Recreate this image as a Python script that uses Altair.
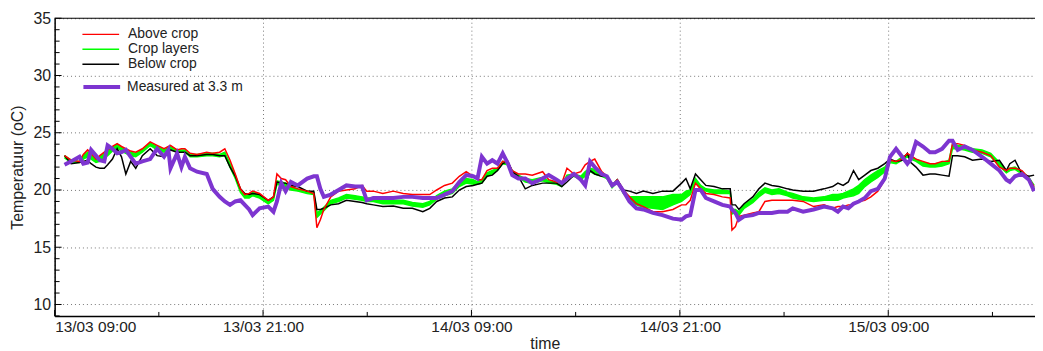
import altair as alt
import pandas as pd

# hours after 13/03 09:00
hours = [0.57, 0.95, 1.43, 1.65, 1.9, 2.1, 2.38, 2.6, 2.86, 3.05, 3.33, 3.6, 3.85, 4.1, 4.38, 4.67,
         5.05, 5.5, 5.9, 6.3, 6.55, 6.67, 7.05, 7.3, 7.5, 7.8, 8.2, 8.76, 9.1, 9.5, 9.8, 10.1,
         10.4, 10.7, 10.95, 11.2, 11.4, 11.8, 12.3, 12.6, 12.8, 13.05, 13.3, 13.6, 14.0, 14.54,
         14.92, 15.1, 15.3, 15.5, 15.9, 16.35, 16.8, 17.3, 17.7, 17.97, 18.35, 18.9, 19.5, 20.07,
         20.6, 21.2, 21.6, 22.0, 22.45, 22.9, 23.3, 23.7, 24.1, 24.35, 24.6, 24.9, 25.2, 25.5,
         25.8, 26.1, 26.35, 26.7, 27.1, 27.5, 28.1, 28.45, 28.9, 29.2, 29.5, 29.9, 30.3, 30.55,
         30.83, 31.1, 31.5, 31.8, 32.1, 32.4, 32.75, 33.1, 33.5, 33.9, 34.45, 35.0, 35.6, 36.1,
         36.35, 36.6, 36.9, 37.2, 37.5, 37.97, 38.45, 38.9, 39.0, 39.2, 39.4, 39.7, 40.2, 40.55,
         40.9, 41.3, 41.7, 42.2, 42.5, 43.1, 43.7, 44.3, 44.8, 45.1, 45.4, 45.7, 46.0, 46.3,
         46.65, 47.0, 47.4, 47.8, 48.1, 48.45, 48.8, 49.1, 49.3, 49.6, 50.0, 50.4, 50.7, 51.1,
         51.5, 51.7, 52.0, 52.4, 52.85, 53.4, 53.9, 54.4, 54.8, 55.0, 55.3, 55.7, 56.1, 56.4]

above = [23.0, 22.6, 22.5, 23.1, 23.5, 23.2, 22.7, 23.0, 23.3, 23.5, 23.8, 24.05, 23.8, 23.6, 23.4, 23.3,
         23.6, 24.2, 23.9, 23.6, 23.8, 23.9, 23.5, 23.6, 23.6, 23.2, 23.1, 23.3, 23.2, 23.3, 23.6, 22.6,
         21.4, 20.1, 19.6, 19.7, 19.9, 19.7, 19.1, 19.4, 21.4, 21.0, 20.9, 20.3, 20.1, 19.9,
         19.7, 16.7, 17.4, 18.3, 19.4, 19.9, 20.0, 20.1, 20.4, 19.9, 19.9, 19.7, 19.9, 19.7,
         19.6, 19.6, 19.6, 20.0, 20.4, 20.6, 21.2, 21.6, 21.2, 20.9, 20.9, 21.7, 21.9, 21.9,
         22.5, 22.4, 21.7, 21.4, 21.4, 21.3, 21.6, 20.9, 20.7, 20.6, 21.9, 21.4, 21.6, 22.2,
         22.5, 22.7, 21.6, 21.2, 20.4, 20.9, 20.0, 19.4, 18.8, 18.55, 18.1, 18.1, 18.3, 18.7,
         18.7, 19.1, 20.6, 20.1, 19.7, 19.6, 19.4, 19.3, 16.5, 16.8, 17.7, 17.8, 18.0, 18.1,
         19.0, 19.1, 19.1, 19.1, 19.1, 19.0, 18.55, 18.7, 18.4, 18.55, 18.55, 18.7, 18.7, 19.0,
         19.1, 19.4, 19.9, 20.9, 22.6, 22.5, 22.7, 23.2, 23.0, 22.7, 22.5, 22.3, 22.3, 22.5,
         22.5, 24.05, 24.05, 23.9, 23.5, 23.3, 23.0, 22.0, 21.7, 21.9, 21.9, 21.7, 21.0, 20.3]

crop_hi = [23.0, 22.6, 22.5, 23.0, 23.3, 23.1, 22.6, 22.9, 23.2, 23.4, 23.7, 24.0, 23.7, 23.5, 23.3, 23.2,
           23.5, 24.1, 23.8, 23.5, 23.7, 23.8, 23.5, 23.5, 23.5, 23.1, 23.1, 23.2, 23.2, 23.1, 23.3, 22.3,
           21.3, 20.0, 19.6, 19.6, 19.8, 19.6, 19.0, 19.3, 20.8, 20.7, 20.6, 20.3, 20.1, 19.9,
           19.8, 18.0, 18.2, 18.5, 19.1, 19.3, 19.6, 19.5, 19.4, 19.3, 19.3, 19.1, 19.1, 19.1,
           18.9, 18.8, 19.0, 19.5, 19.9, 20.1, 20.7, 21.0, 20.9, 20.7, 20.9, 21.5, 21.7, 21.9,
           22.5, 22.4, 21.7, 21.3, 21.0, 20.9, 21.1, 20.8, 20.7, 20.5, 21.3, 21.4, 21.2, 21.6,
           21.9, 21.8, 21.4, 21.2, 20.4, 20.9, 19.9, 19.4, 19.4, 19.4, 19.4, 19.4, 19.6, 19.6,
           19.9, 20.0, 21.0, 20.4, 20.1, 20.0, 20.0, 19.9, 18.3, 18.3, 18.1, 18.7, 19.2, 19.8,
           20.2, 20.0, 20.1, 19.8, 19.7, 19.4, 19.3, 19.4, 19.6, 19.6, 19.7, 19.9, 20.1, 20.4,
           20.9, 21.3, 21.7, 22.0, 22.6, 22.5, 22.9, 23.1, 22.9, 22.7, 22.4, 22.3, 22.3, 22.4,
           22.6, 24.0, 23.9, 23.8, 23.6, 23.5, 23.2, 22.4, 21.7, 21.9, 22.0, 21.6, 21.1, 20.4]

crop_lo = [22.8, 22.4, 22.4, 22.7, 22.9, 22.7, 22.4, 22.5, 22.8, 23.0, 23.4, 23.7, 23.4, 23.2, 23.0, 22.9,
           23.3, 23.9, 23.5, 23.3, 23.5, 23.6, 23.3, 23.3, 23.3, 22.9, 22.9, 23.0, 23.0, 22.9, 23.0, 22.0,
           21.0, 19.8, 19.3, 19.3, 19.5, 19.3, 18.8, 19.1, 20.5, 20.4, 20.3, 20.0, 19.9, 19.7,
           19.6, 17.6, 17.9, 18.2, 18.8, 19.0, 19.3, 19.2, 19.1, 19.0, 19.0, 18.8, 18.8, 18.8,
           18.6, 18.5, 18.7, 19.2, 19.5, 19.7, 20.3, 20.6, 20.5, 20.5, 20.6, 21.2, 21.4, 21.7,
           22.3, 22.2, 21.5, 21.1, 20.7, 20.6, 20.8, 20.6, 20.5, 20.3, 21.0, 21.2, 20.9, 21.2,
           21.6, 21.4, 21.2, 21.0, 20.2, 20.7, 19.7, 19.2, 18.7, 18.5, 18.4, 18.3, 18.7, 19.0,
           19.3, 19.6, 20.7, 20.1, 19.9, 19.7, 19.7, 19.7, 17.9, 18.0, 17.8, 18.4, 18.9, 19.4,
           19.8, 19.6, 19.7, 19.5, 19.3, 19.1, 19.0, 19.1, 19.1, 19.1, 19.3, 19.4, 19.5, 19.7,
           20.3, 20.7, 21.1, 21.6, 22.4, 22.3, 22.6, 22.9, 22.7, 22.5, 22.1, 22.0, 22.0, 22.1,
           22.3, 23.6, 23.6, 23.5, 23.3, 23.2, 22.9, 22.1, 21.5, 21.7, 21.8, 21.4, 20.9, 20.2]

below = [23.0, 22.3, 22.4, 22.5, 22.6, 22.3, 22.0, 21.9, 21.9, 22.2, 22.7, 23.6, 22.9, 21.4, 22.5, 21.9,
         23.0, 23.6, 23.0, 22.9, 23.4, 23.5, 23.3, 23.3, 23.3, 23.0, 23.0, 23.1, 23.1, 23.0, 23.0, 22.0,
         21.2, 20.1, 19.7, 19.6, 19.7, 19.6, 19.1, 19.4, 20.7, 20.6, 20.6, 20.4, 20.3, 19.9,
         19.9, 18.3, 18.3, 18.4, 18.7, 18.8, 19.1, 19.0, 18.9, 18.8, 18.7, 18.55, 18.6, 18.4,
         18.4, 18.1, 18.4, 19.0, 19.3, 19.4, 20.0, 20.3, 20.4, 20.5, 20.6, 21.2, 21.3, 21.7,
         22.3, 22.5, 21.6, 21.2, 20.1, 20.4, 20.6, 20.6, 20.6, 20.3, 20.7, 21.3, 20.9, 20.4,
         21.7, 21.4, 21.2, 21.2, 20.4, 20.9, 20.0, 19.9, 19.7, 19.9, 19.7, 19.9, 19.9, 20.6,
         21.0, 20.1, 21.4, 20.9, 20.4, 20.3, 20.1, 20.1, 18.7, 18.7, 18.3, 18.8, 19.4, 20.1,
         20.6, 20.4, 20.3, 20.1, 20.0, 19.9, 19.9, 20.1, 20.3, 20.6, 20.4, 20.7, 21.7, 20.9,
         21.3, 21.7, 21.9, 22.3, 22.7, 22.5, 22.6, 23.2, 22.4, 22.0, 21.3, 21.4, 21.4, 21.3,
         21.2, 23.0, 23.0, 22.9, 22.6, 22.7, 22.5, 22.6, 21.7, 22.3, 22.6, 21.4, 21.2, 21.3]

measured = [22.2, 22.5, 22.9, 22.3, 22.4, 23.5, 23.0, 22.6, 22.5, 23.9, 23.6, 23.2, 23.3, 23.5, 22.9, 22.3,
            22.5, 22.7, 23.6, 22.9, 23.5, 21.9, 23.2, 22.0, 22.9, 21.9, 21.6, 21.4, 20.1, 19.4, 19.0, 18.7,
            19.0, 19.1, 18.7, 18.3, 17.8, 18.4, 18.55, 18.1, 19.0, 20.6, 19.9, 20.7, 20.4, 21.0,
            21.2, 21.2, 20.1, 19.4, 19.6, 20.0, 20.4, 20.3, 20.3, 19.1, 19.3, 19.3, 19.3, 19.4,
            19.4, 19.3, 19.3, 19.3, 19.6, 19.9, 20.7, 21.3, 21.2, 21.0, 22.9, 22.3, 22.6, 22.3,
            23.2, 22.3, 21.3, 21.0, 21.0, 20.6, 21.0, 21.3, 20.9, 20.6, 21.0, 21.4, 20.9, 20.4,
            22.5, 22.0, 21.4, 21.2, 20.4, 20.7, 19.9, 19.0, 18.4, 18.3, 18.0, 17.8, 17.5, 17.4,
            17.7, 17.8, 20.0, 20.0, 19.3, 19.0, 18.7, 18.55, 18.3, 18.0, 17.4, 17.7, 17.8, 18.0,
            18.0, 18.0, 18.1, 18.1, 18.4, 18.1, 18.3, 18.55, 18.4, 18.1, 18.55, 18.4, 18.8, 19.0,
            19.3, 19.9, 20.1, 21.0, 22.9, 23.6, 22.9, 22.3, 22.7, 24.2, 23.8, 23.3, 23.3, 23.6,
            24.3, 24.3, 23.5, 23.8, 23.5, 22.9, 22.3, 21.7, 20.9, 20.7, 21.2, 21.4, 20.9, 19.9]

series_names = ["Above crop", "Crop layers", "Below crop"]
series_colors = ["#ff0000", "#00ff00", "#000000"]
measured_name = "Measured at 3.3 m"
measured_color = "#7d35d0"

major_x = [(13, 9), (13, 21), (14, 9), (14, 21), (15, 9)]
minor_x = [(13, 15), (14, 3), (14, 15), (15, 3), (15, 15)]
major_y = [10, 15, 20, 25, 30, 35]
minor_y = [9, 11, 12, 13, 14, 16, 17, 18, 19, 21, 22, 23, 24, 26, 27, 28, 29, 31, 32, 33, 34]

FONT = "Liberation Sans"
base = pd.Timestamp("2013-03-13 09:00")
times = [base + pd.Timedelta(hours=h) for h in hours]

wide = pd.DataFrame({"t": times, "lo": crop_lo, "hi": crop_hi})

rows = []
for key, name, vals in [("hi", "Crop layers", crop_hi), ("lo", "Crop layers", crop_lo),
                        ("below", "Below crop", below), ("above", "Above crop", above)]:
    for tt, v in zip(times, vals):
        rows.append({"t": tt, "v": v, "series": name, "line": key})
long_df = pd.DataFrame(rows)
meas_df = pd.DataFrame({"t": times, "v": measured, "series": measured_name})

def dt(d, h):
    return alt.DateTime(year=2013, month=3, date=d, hours=h)

x_scale = alt.Scale(domain=[dt(13, 9), alt.DateTime(year=2013, month=3, date=15, hours=17, minutes=27)])
y_scale = alt.Scale(domain=[9, 35], nice=False, zero=False)

x_axis = alt.Axis(values=[dt(d, h) for d, h in major_x], format="%d/%m %H:%M", title="time",
                  grid=True, gridDash=[1, 3], gridColor="#777", gridWidth=1,
                  ticks=False, domainColor="#000", domainWidth=1.5,
                  labelFont=FONT, labelFontSize=15.5, labelColor="#222", labelPadding=4,
                  titleFont=FONT, titleFontSize=16, titleFontWeight="normal", titleColor="#222",
                  titlePadding=0)
y_axis = alt.Axis(values=major_y, title="Temperatuur (oC)",
                  grid=True, gridDash=[1, 3], gridColor="#777", gridWidth=1,
                  ticks=False, domainColor="#000", domainWidth=1.5,
                  labelFont=FONT, labelFontSize=16, labelColor="#222", labelPadding=4,
                  titleFont=FONT, titleFontSize=16, titleFontWeight="normal", titleColor="#222",
                  titlePadding=8)

X = alt.X("t:T", scale=x_scale, axis=x_axis)

band = alt.Chart(wide).mark_area(color="#00ff00", opacity=1).encode(
    x=X, y=alt.Y("lo:Q", scale=y_scale, axis=y_axis), y2="hi:Q")

lines = alt.Chart(long_df).mark_line(strokeWidth=1.5).encode(
    x=X, y=alt.Y("v:Q", scale=y_scale, axis=y_axis),
    color=alt.Color("series:N", scale=alt.Scale(domain=series_names, range=series_colors),
                    legend=alt.Legend(title=None, orient="none", legendX=27, legendY=9,
                                      symbolType="stroke", symbolSize=1369, symbolStrokeWidth=1.5,
                                      labelFont=FONT, labelFontSize=14, labelColor="#222",
                                      labelOffset=8, clipHeight=14.5, rowPadding=0)),
    detail="line:N")

meas = alt.Chart(meas_df).mark_line(strokeWidth=4).encode(
    x=X, y=alt.Y("v:Q", scale=y_scale, axis=y_axis),
    color=alt.Color("series:N", scale=alt.Scale(domain=[measured_name], range=[measured_color]),
                    legend=alt.Legend(title=None, orient="none", legendX=27, legendY=62,
                                      symbolType="stroke", symbolSize=1369, symbolStrokeWidth=4,
                                      labelFont=FONT, labelFontSize=14, labelColor="#222",
                                      labelOffset=5, clipHeight=14.5)))

# inward tick marks and top frame
minor_x_df = pd.DataFrame({"t": [base.replace(day=d, hour=h) for d, h in minor_x]})
major_x_df = pd.DataFrame({"t": [base.replace(day=d, hour=h) for d, h in major_x]})
xt_minor = alt.Chart(minor_x_df).mark_rule(color="#000", strokeWidth=1).encode(
    x=X, y=alt.value(300), y2=alt.value(296))
xt_major = alt.Chart(major_x_df).mark_rule(color="#000", strokeWidth=1).encode(
    x=X, y=alt.value(300), y2=alt.value(294))
yt_minor = alt.Chart(pd.DataFrame({"v": minor_y})).mark_rule(color="#000", strokeWidth=1).encode(
    y=alt.Y("v:Q", scale=y_scale, axis=y_axis), x=alt.value(0), x2=alt.value(5))
yt_major = alt.Chart(pd.DataFrame({"v": major_y})).mark_rule(color="#000", strokeWidth=1).encode(
    y=alt.Y("v:Q", scale=y_scale, axis=y_axis), x=alt.value(0), x2=alt.value(7))
top = alt.Chart(pd.DataFrame({"v": [35]})).mark_rule(color="#000", strokeWidth=1.2).encode(
    y=alt.Y("v:Q", scale=y_scale, axis=y_axis))

chart = alt.layer(band, lines, meas, xt_minor, xt_major, yt_minor, yt_major, top).resolve_scale(
    color="independent"
).properties(
    width=988, height=300,
    padding={"left": 47, "top": 9, "right": 0, "bottom": 34},
    autosize=alt.AutoSizeParams(type="none"),
).configure_view(stroke=None)

chart.save("out.html", embed_options={"renderer": "svg", "actions": False})
